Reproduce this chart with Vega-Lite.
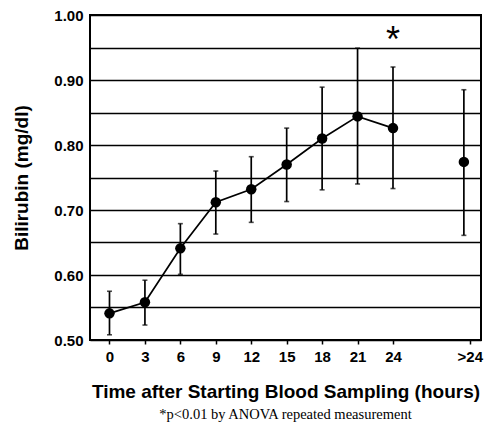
{
  "$schema": "https://vega.github.io/schema/vega-lite/v6.json",
  "width": 391,
  "height": 325,
  "autosize": {"type": "none"},
  "padding": {"left": 90, "top": 15, "right": 4, "bottom": 108},
  "background": "white",
  "config": {
    "font": "Liberation Sans",
    "view": {"stroke": "#000", "strokeWidth": 2},
    "axisY": {
      "grid": true,
      "gridColor": "#000",
      "gridWidth": 1.6,
      "gridOpacity": 1,
      "domain": false,
      "ticks": false,
      "tickSize": 0,
      "labelPadding": 7,
      "labelFont": "Liberation Sans",
      "labelFontSize": 15,
      "labelFontWeight": "bold",
      "labelColor": "#000",
      "titleFont": "Liberation Sans",
      "titleFontSize": 19,
      "titleFontWeight": "bold",
      "titleColor": "#000",
      "titlePadding": 22
    }
  },
  "title": {
    "text": "*p<0.01 by ANOVA repeated measurement",
    "orient": "bottom",
    "anchor": "middle",
    "font": "Liberation Serif",
    "fontSize": 14.5,
    "fontWeight": "normal",
    "color": "#000",
    "offset": 7
  },
  "datasets": {
    "pts": [
      {"hour": 0, "group": "main", "mean": 0.541, "lo": 0.508, "hi": 0.575},
      {"hour": 3, "group": "main", "mean": 0.558, "lo": 0.523, "hi": 0.592},
      {"hour": 6, "group": "main", "mean": 0.641, "lo": 0.601, "hi": 0.679},
      {"hour": 9, "group": "main", "mean": 0.712, "lo": 0.663, "hi": 0.760},
      {"hour": 12, "group": "main", "mean": 0.732, "lo": 0.681, "hi": 0.782},
      {"hour": 15, "group": "main", "mean": 0.770, "lo": 0.713, "hi": 0.826},
      {"hour": 18, "group": "main", "mean": 0.810, "lo": 0.731, "hi": 0.889},
      {"hour": 21, "group": "main", "mean": 0.844, "lo": 0.740, "hi": 0.949},
      {"hour": 24, "group": "main", "mean": 0.826, "lo": 0.733, "hi": 0.920},
      {"hour": 30, "group": "late", "mean": 0.774, "lo": 0.661, "hi": 0.885}
    ],
    "sig": [{"hour": 24, "y": 0.972, "label": "*"}]
  },
  "data": {"name": "pts"},
  "encoding": {
    "x": {
      "field": "hour",
      "type": "quantitative",
      "scale": {"domain": [-1.65, 31.45], "nice": false, "zero": false},
      "axis": {
        "title": "Time after Starting Blood Sampling (hours)",
        "values": [0, 3, 6, 9, 12, 15, 18, 21, 24, 30.5],
        "labelExpr": "datum.value > 25 ? '>24' : datum.label",
        "grid": false,
        "domain": false,
        "ticks": true,
        "tickSize": 4,
        "tickColor": "#000",
        "tickWidth": 1.5,
        "labelFont": "Liberation Sans",
        "labelFontSize": 15,
        "labelFontWeight": "bold",
        "labelColor": "#000",
        "labelPadding": 5,
        "titleFont": "Liberation Sans",
        "titleFontSize": 19,
        "titleFontWeight": "bold",
        "titleColor": "#000",
        "titlePadding": 18
      }
    }
  },
  "layer": [
    {
      "mark": {"type": "errorbar", "ticks": {"size": 5, "thickness": 1.6, "color": "#000"}, "rule": {"strokeWidth": 1.7, "color": "#000"}},
      "encoding": {
        "y": {
          "field": "lo",
          "type": "quantitative",
          "scale": {"domain": [0.5, 1.0], "nice": false, "zero": false},
          "axis": {
            "title": "Bilirubin (mg/dl)",
            "values": [0.5, 0.55, 0.6, 0.65, 0.7, 0.75, 0.8, 0.85, 0.9, 0.95, 1.0],
            "labelExpr": "abs(datum.value * 10 - round(datum.value * 10)) < 0.01 ? format(datum.value, '.2f') : ''"
          }
        },
        "y2": {"field": "hi"}
      }
    },
    {
      "transform": [{"filter": "datum.group == 'main'"}],
      "mark": {"type": "line", "color": "#000", "strokeWidth": 1.7},
      "encoding": {"y": {"field": "mean", "type": "quantitative",
        "axis": {
          "title": "Bilirubin (mg/dl)",
          "values": [0.5, 0.55, 0.6, 0.65, 0.7, 0.75, 0.8, 0.85, 0.9, 0.95, 1.0],
          "labelExpr": "abs(datum.value * 10 - round(datum.value * 10)) < 0.01 ? format(datum.value, '.2f') : ''"
        }}}
    },
    {
      "mark": {"type": "point", "filled": true, "color": "#000", "opacity": 1, "size": 110},
      "encoding": {"y": {"field": "mean", "type": "quantitative",
        "axis": {
          "title": "Bilirubin (mg/dl)",
          "values": [0.5, 0.55, 0.6, 0.65, 0.7, 0.75, 0.8, 0.85, 0.9, 0.95, 1.0],
          "labelExpr": "abs(datum.value * 10 - round(datum.value * 10)) < 0.01 ? format(datum.value, '.2f') : ''"
        }}}
    },
    {
      "data": {"name": "sig"},
      "mark": {"type": "text", "font": "Liberation Sans", "fontSize": 36, "fontWeight": "normal", "color": "#000", "baseline": "middle", "align": "center", "dy": 8},
      "encoding": {
        "y": {"field": "y", "type": "quantitative",
          "axis": {
            "title": "Bilirubin (mg/dl)",
            "values": [0.5, 0.55, 0.6, 0.65, 0.7, 0.75, 0.8, 0.85, 0.9, 0.95, 1.0],
            "labelExpr": "abs(datum.value * 10 - round(datum.value * 10)) < 0.01 ? format(datum.value, '.2f') : ''"
          }},
        "text": {"field": "label"}
      }
    }
  ]
}
